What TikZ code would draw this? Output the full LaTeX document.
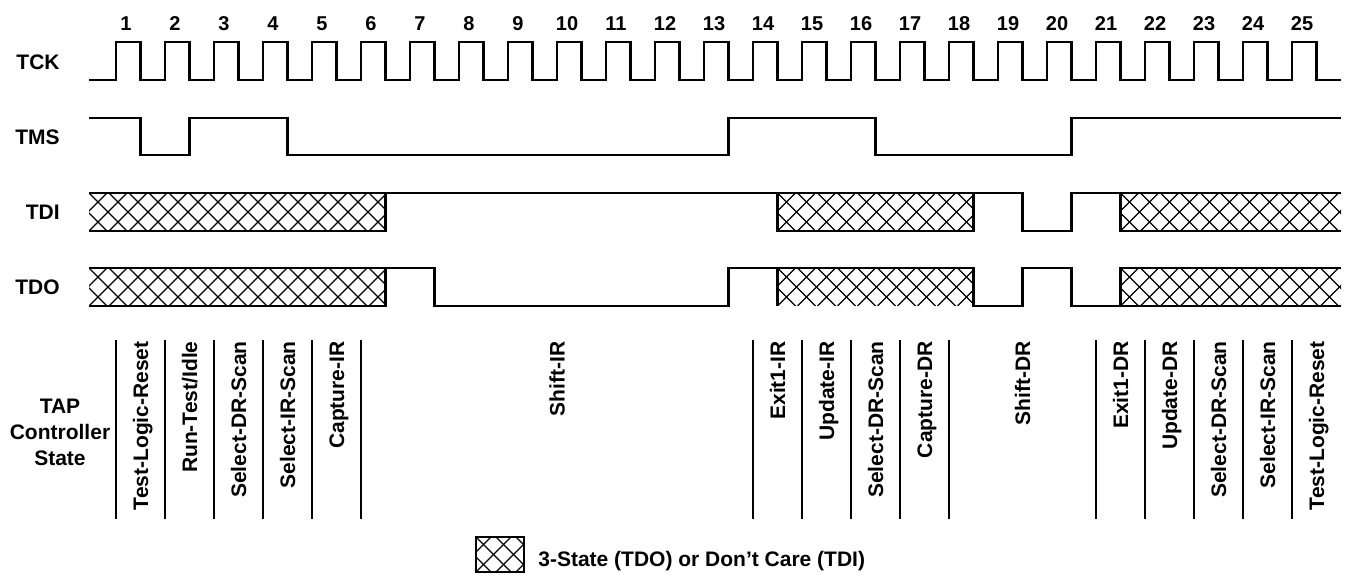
\documentclass[tikz,border=0pt]{standalone}
\usepackage{fontspec}
\setmainfont{Liberation Sans}

\tikzset{
	sig/.style={line width=1.4pt},
	hatchline/.style={line width=0.6pt},
	divider/.style={line width=0.6pt},
	signame/.style={anchor=east, inner sep=0pt},
	statelabel/.style={rotate=90, anchor=base east, inner sep=0pt},
}

% crossed band from x=#1 to #2, top #3, bottom #4
\newcommand{\hatchband}[4]{
	\begin{scope}
	\clip (#1,#3) rectangle (#2,#4);
	\foreach \h in {-60,-40,...,340}
	{
		\draw[hatchline] ({#1+\h},#3) -- ({#1+\h+#4-#3},#4);
		\draw[hatchline] ({#1+\h+#4-#3},#3) -- ({#1+\h},#4);
	}
	\end{scope}
}

\begin{document}
\begin{tikzpicture}[x=0.5pt, y=-0.5pt, font=\bfseries\fontsize{10.5}{13}\selectfont]
\useasboundingbox (0,0) rectangle (1351,576);

	\node [signame] (TCK) at (60,62) {TCK};
	\node [signame] (TMS) at (60,137) {TMS};
	\node [signame] (TDI) at (60,212.5) {TDI};
	\node [signame] (TDO) at (60,287.5) {TDO};

	\node [align=center] (tap) at (60,432) {TAP\\Controller\\State};

% clock numbers
\foreach \k in {1,...,25}
	\node [font=\bfseries\fontsize{10}{12}\selectfont] (n\k) at ({77+49*\k},23.5) {\k};

% TCK
\draw[sig] (89,80) \foreach \k in {1,...,25} { -- ({67+49*\k},80) -- ({67+49*\k},42) -- ({91.5+49*\k},42) -- ({91.5+49*\k},80) } -- (1341,80);

% TMS
\draw[sig] (89,118) -- (140.5,118) -- (140.5,155) -- (189.5,155) -- (189.5,118) -- (287.5,118) -- (287.5,155)
	-- (728.5,155) -- (728.5,118) -- (875.5,118) -- (875.5,155) -- (1071.5,155) -- (1071.5,118) -- (1341,118);

% TDI
\hatchband{89}{385.5}{193}{231}
\hatchband{777.5}{973.5}{193}{231}
\hatchband{1120.5}{1341}{193}{231}
\draw[sig] (89,193) -- (1022.5,193) -- (1022.5,231) -- (1071.5,231) -- (1071.5,193) -- (1341,193);
\draw[sig] (89,231) -- (385.5,231) -- (385.5,193);
\draw[sig] (777.5,193) -- (777.5,231) -- (973.5,231) -- (973.5,193);
\draw[sig] (1120.5,193) -- (1120.5,231) -- (1341,231);

% TDO
\hatchband{89}{385.5}{268}{306}
\hatchband{777.5}{973.5}{268}{306}
\hatchband{1120.5}{1341}{268}{306}
\draw[sig] (89,268) -- (434.5,268) -- (434.5,306) -- (728.5,306) -- (728.5,268) -- (973.5,268) -- (973.5,306)
	-- (1022.5,306) -- (1022.5,268) -- (1071.5,268) -- (1071.5,306) -- (1341,306);
\draw[sig] (89,306) -- (385.5,306) -- (385.5,268);
\draw[sig] (777.5,268) -- (777.5,306);
\draw[sig] (1120.5,306) -- (1120.5,268) -- (1341,268);

% state columns
\foreach \k in {1,2,3,4,5,6,14,15,16,17,18,21,22,23,24,25}
	\draw[divider] ({67+49*\k},340) -- ({67+49*\k},519);

\foreach \c/\txt [count=\i] in {1/Test-Logic-Reset, 2/{Run-Test/Idle}, 3/Select-DR-Scan, 4/Select-IR-Scan,
		5/Capture-IR, 9.5/Shift-IR, 14/Exit1-IR, 15/Update-IR, 16/Select-DR-Scan, 17/Capture-DR,
		19/Shift-DR, 21/Exit1-DR, 22/Update-DR, 23/Select-DR-Scan, 24/Select-IR-Scan, 25/Test-Logic-Reset}
	\node [statelabel] (state\i) at ({67+49*\c+24.5+7.5},341) {\txt};

% legend
\hatchband{476}{524}{537}{572}
\draw[line width=1.2pt] (476,537) rectangle (524,572);
\node [anchor=base west, inner sep=0pt] (legend) at (538,567) {3-State (TDO) or Don’t Care (TDI)};

\end{tikzpicture}
\end{document}
